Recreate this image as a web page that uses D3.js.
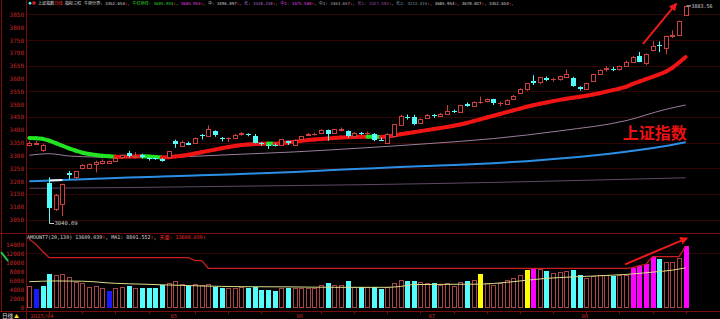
<!DOCTYPE html>
<html><head><meta charset="utf-8">
<script src="https://cdn.jsdelivr.net/npm/d3@7/dist/d3.min.js"></script>
<style>html,body{margin:0;padding:0;background:#000;overflow:hidden}svg{display:block}text{white-space:pre}</style>
</head><body>
<svg id="chart" width="720" height="319"></svg>
<script>
// ---------- DATA ----------
const dates = [
"2025-04-01","2025-04-02","2025-04-03","2025-04-07","2025-04-08","2025-04-09","2025-04-10","2025-04-11","2025-04-14","2025-04-15","2025-04-16","2025-04-17","2025-04-18","2025-04-21","2025-04-22","2025-04-23","2025-04-24","2025-04-25","2025-04-28","2025-04-29","2025-04-30",
"2025-05-06","2025-05-07","2025-05-08","2025-05-09","2025-05-12","2025-05-13","2025-05-14","2025-05-15","2025-05-16","2025-05-19","2025-05-20","2025-05-21","2025-05-22","2025-05-23","2025-05-26","2025-05-27","2025-05-28","2025-05-29","2025-05-30",
"2025-06-03","2025-06-04","2025-06-05","2025-06-06","2025-06-09","2025-06-10","2025-06-11","2025-06-12","2025-06-13","2025-06-16","2025-06-17","2025-06-18","2025-06-19","2025-06-20","2025-06-23","2025-06-24","2025-06-25","2025-06-26","2025-06-27","2025-06-30",
"2025-07-01","2025-07-02","2025-07-03","2025-07-04","2025-07-07","2025-07-08","2025-07-09","2025-07-10","2025-07-11","2025-07-14","2025-07-15","2025-07-16","2025-07-17","2025-07-18","2025-07-21","2025-07-22","2025-07-23","2025-07-24","2025-07-25","2025-07-28","2025-07-29","2025-07-30","2025-07-31",
"2025-08-01","2025-08-04","2025-08-05","2025-08-06","2025-08-07","2025-08-08","2025-08-11","2025-08-12","2025-08-13","2025-08-14","2025-08-15","2025-08-18","2025-08-19","2025-08-20","2025-08-21","2025-08-22","2025-08-25"];

const open = [3341,3346,3320,3193,3090,3110,3230,3215,3250,3252,3268,3270,3270,3280,3294,3308,3293,3303,3289,3290,3285,
3293,3358,3336,3350,3350,3381,3376,3395,3370,3367,3369,3384,3384,3376,3348,3342,3342,3341,3355,
3341,3366,3381,3384,3389,3398,3388,3399,3396,3376,3388,3386,3384,3361,3350,3377,3419,3450,3451,3425,
3446,3458,3455,3462,3474,3471,3500,3493,3508,3512,3520,3504,3500,3520,3542,3560,3590,3585,3602,3598,3598,3608,3604,
3567,3561,3589,3619,3636,3637,3638,3651,3664,3687,3660,3712,3732,3720,3766,3769,3848];
const high = [3356,3356,3346,3215,3150,3190,3240,3240,3267,3269,3280,3285,3280,3295,3303,3318,3313,3306,3293,3292,3290,
3317,3362,3358,3354,3370,3384,3417,3398,3372,3372,3384,3391,3386,3384,3352,3346,3347,3364,3357,
3362,3377,3388,3389,3403,3401,3404,3409,3398,3392,3392,3393,3387,3370,3387,3423,3459,3460,3459,3445,
3462,3462,3466,3497,3479,3498,3507,3511,3530,3522,3521,3510,3519,3537,3562,3582,3613,3606,3608,3603,3611,3636,3607,
3570,3584,3619,3636,3648,3646,3651,3670,3688,3704,3698,3746,3745,3767,3788,3826,3883.56];
const low = [3336,3340,3315,3040.69,3083,3064,3206,3208,3246,3248,3234,3265,3267,3276,3288,3292,3289,3288,3280,3283,3276,
3292,3330,3334,3340,3348,3363,3372,3373,3355,3352,3366,3377,3375,3347,3338,3326,3335,3338,3341,
3338,3363,3378,3378,3386,3358,3384,3394,3370,3372,3380,3380,3356,3357,3346,3376,3418,3440,3418,3423,
3443,3447,3450,3459,3466,3469,3490,3490,3502,3507,3497,3492,3497,3517,3540,3552,3575,3578,3590,3588,3592,3606,3568,
3553,3556,3588,3615,3627,3629,3631,3646,3661,3664,3652,3706,3703,3695,3758,3768,3844];
const close = [3348,3350,3342,3097,3146,3187,3224,3238,3263,3268,3276,3280,3277,3291,3300,3298,3297,3295,3288,3287,3279,
3316,3343,3352,3342,3369,3375,3404,3381,3367,3368,3380,3388,3380,3348,3347,3341,3340,3363,3347,
3362,3376,3384,3385,3400,3385,3402,3403,3377,3389,3387,3389,3362,3360,3382,3421,3456,3448,3424,3444,
3458,3455,3461,3472,3473,3497,3493,3510,3510,3520,3505,3504,3517,3534,3560,3582,3582,3606,3594,3598,3610,3616,3573,
3560,3583,3618,3634,3640,3635,3648,3666,3683,3666,3697,3728,3727,3766,3771,3826,3883];

// 牛红熊绿 thick trend line, one value per candle
const trendLine = [3368,3367.5,3365,3358,3348,3338,3328,3319,3311,3306,
3302,3299,3297,3295,3295.5,3296,3296.5,3297,3296,3294,
3292,3293,3296,3299,3303,3308,3313,3318,3323,3328,
3333,3337,3341,3343,3345,3346,3346.5,3346,3348,3351,
3354,3357,3360,3362,3364,3366,3368,3370,3371,3372,
3373,3373.5,3373,3372,3374,3378,3383,3387,3391,3395,
3399,3403,3407,3411,3416,3421,3427,3434,3441,3448,
3455,3462,3469,3476,3483,3490,3496,3502,3507,3512,
3517,3521,3525,3529,3533,3538,3543,3549,3555,3561,
3568,3579,3588,3598,3607,3616,3627,3642,3663,3684];

// 牛熊分界 (blue) read at candle indices
const bullBearIdx = [0,5,10,15,20,25,30,35,40,45,50,55,60,65,70,75,80,85,90,95,99];
const bullBearVal = [3200,3204,3209,3214,3218,3222,3226,3231,3236,3242,3248,3254,3259,3264,3270,3278,3288,3300,3315,3333,3352];
const bearSpanIdx = [3,5];            // part of the blue line shown white
const bearSpanVal = [3202,3204];
// 中 (mauve)
const midIdx = [0,3,6,10,15,20,25,31,40,50,60,70,80,90,96,99];
const midVal = [3301,3307,3298,3294,3292,3292,3297,3304,3314,3329,3346,3366,3396,3436,3480,3497];
// 长2 (dark)
const longIdx = [0,15,31,50,70,85,99];
const longVal = [3172,3175,3180,3186,3195,3204,3213];

// Volume (amount)
const amount = [4790,4060,4790,7370,7220,7440,6780,5610,5400,4650,4790,4420,3690,4280,4580,4790,4420,4420,4280,4280,5010,
5400,5900,5160,4790,5160,5010,5160,4650,4280,4280,4420,4640,4280,4640,3910,3910,3760,4420,4420,
4280,4420,4280,4280,5010,5380,5010,5010,5900,4640,4500,4500,4640,4060,4640,5380,6120,5900,5900,5600,
5380,5380,5010,5530,4860,5600,5900,6120,7440,5380,5010,5380,6120,6480,7220,8330,8480,8480,8110,7740,7960,8110,8330,
7220,6500,7000,7220,7220,7000,7220,7220,8850,9290,9590,11280,10690,10180,10030,10910,13609];
// u = up, d = down, b = floor, y = signal, m = burst
const amountFlagApr = "ubdduuuuuuuubuududddd";
const amountFlagMay = "uuuduuudduuudddddud";
const amountFlagJun = "uuuuuduudududduuuddu";
const amountFlagJul = "uduuuuduyuuuuuuymuduuud";
const amountFlagAug = "duuuuduummmmduuum";
const amountFlag = (amountFlagApr + amountFlagMay + amountFlagJun + amountFlagJul + amountFlagAug).split("");
const amountMaIdx = [0,4,8,13,17,21,26,32,39,46,54,56,58,63,68,70,74,78,82,86,90,94,97,99];
const amountMaVal = [5750,5900,5850,5380,5200,5010,4800,4640,4600,4500,4500,4700,5100,5160,5200,5350,5900,6480,6800,7050,7350,7850,8300,8800];
// 天量 line
const peakIdx = [0,1,2,3,24,25,26,27,90,91,92,93,94,98,99];
const peakVal = [15100,14000,12400,11050,11050,10380,10380,8700,8700,8850,9290,9590,11280,11280,13609];

const priceTicks = [3050,3100,3150,3200,3250,3300,3350,3400,3450,3500,3550,3600,3650,3700,3750,3800,3850];
const priceGrid = [3050,3150,3250,3350,3450,3550,3650,3750,3850];
const amountTicks = [0,2000,4000,6000,8000,10000,12000,14000];
const monthTickDates = ["2025-04-01","2025-05-06","2025-06-03","2025-07-01","2025-08-01"];
const monthTickLabels = ["2025/04","05","06","07","08"];

const headerNames = ["牛熊分界","牛红熊绿","","中","长","中1","中2","长1","长2","","",""];
const headerValues = [3352.654,3685.954,3685.954,3496.897,3328.238,3475.588,3463.657,3327.592,3212.415,3685.954,3670.027,3352.654];
const volHeaderNames = ["AMOUNT7(20,130)","MA1","天量"];
const volHeaderValues = [13609.039,8801.552,13609.039];

// ---------- STYLES ----------
const headerColors = ["#d8d8d8","#33d633","#e040e0","#d0d0d0","#b070c8","#e040e0","#b8a8b8","#a050b0","#8098b0","#d8d8d8","#d8d8d8","#d8d8d8"];
const UP="#cc4040", CYAN="#54fcfc";
const volColor = {u:null,d:CYAN,b:"#1a1aff",y:"#ffff00",m:"#ff00ff"};
const MONO = "'DejaVu Sans Mono', 'Liberation Mono', monospace";
const CJK = "'Noto Sans CJK SC', sans-serif";

// ---------- SCALES ----------
const svg = d3.select("#chart");
svg.append("rect").attr("width",720).attr("height",319).attr("fill","#000");
const n = dates.length;
const x = d3.scaleLinear().domain([0, n-1]).range([29.3, 685.7]);
const y = d3.scaleLinear().domain([2997.7, 3906.5]).range([233, 0]);
const yv = d3.scaleLinear().domain([0, 14000]).range([307.7, 244.3]);
const px = i => Math.round(x(i));

// frame
const frame = svg.append("g").attr("stroke","#7a0c0c").attr("stroke-width",1);
frame.append("line").attr("x1",1.5).attr("x2",1.5).attr("y1",0).attr("y2",311);
frame.append("line").attr("x1",26.5).attr("x2",26.5).attr("y1",0).attr("y2",319);
frame.append("line").attr("x1",0).attr("x2",720).attr("y1",233.5).attr("y2",233.5);
frame.append("line").attr("x1",0).attr("x2",720).attr("y1",311.5).attr("y2",311.5);

// grid
svg.append("g").selectAll("line").data(priceGrid).join("line")
  .attr("x1",27).attr("x2",720).attr("y1",d=>Math.round(y(d))+0.5).attr("y2",d=>Math.round(y(d))+0.5)
  .attr("stroke","#330606");
svg.append("line").attr("x1",27).attr("x2",720).attr("y1",Math.round(yv(12000))+0.5).attr("y2",Math.round(yv(12000))+0.5).attr("stroke","#330606");

// axes
const ya = svg.append("g").attr("transform","translate(25,0)")
  .call(d3.axisLeft(y).tickValues(priceTicks).tickSize(0).tickPadding(1).tickFormat(d3.format("d")));
ya.select(".domain").remove();
ya.selectAll("text").attr("fill","#c02828").attr("font-family",MONO).attr("font-size",6);
const va = svg.append("g").attr("transform","translate(25,0)")
  .call(d3.axisLeft(yv).tickValues(amountTicks).tickSize(0).tickPadding(1).tickFormat(d3.format("d")));
va.select(".domain").remove();
va.selectAll("text").attr("fill","#c02828").attr("font-family",MONO).attr("font-size",6);
svg.append("line").attr("x1",1).attr("y1",252).attr("x2",8).attr("y2",261).attr("stroke","#22cc44").attr("stroke-width",2);

// clip
svg.append("clipPath").attr("id","mainClip").append("rect").attr("x",27).attr("y",0).attr("width",693).attr("height",233);
const main = svg.append("g").attr("clip-path","url(#mainClip)");

// thin lines
const knotLine = (idx,val) => d3.line().x((d,k)=>x(idx[k])).y(d=>y(d)).curve(d3.curveMonotoneX)(val);
main.append("path").attr("d",knotLine(longIdx,longVal)).attr("fill","none").attr("stroke","#5e4a64").attr("stroke-width",1);
main.append("path").attr("d",knotLine(midIdx,midVal)).attr("fill","none").attr("stroke","#9c7c9c").attr("stroke-width",1);
main.append("path").attr("d",knotLine(bullBearIdx,bullBearVal)).attr("fill","none").attr("stroke","#2b8fe6").attr("stroke-width",2);
main.append("path").attr("d",knotLine(bearSpanIdx,bearSpanVal)).attr("fill","none").attr("stroke","#f0f0f0").attr("stroke-width",2);

// thick trend line (red rising / green falling)
const segs = d3.range(1,n).map(i=>({i, up: trendLine[i] >= trendLine[i-1]}));
main.append("g").selectAll("line").data(segs).join("line")
  .attr("x1",d=>x(d.i-1)).attr("y1",d=>y(trendLine[d.i-1]))
  .attr("x2",d=>x(d.i)).attr("y2",d=>y(trendLine[d.i]))
  .attr("stroke",d=>d.up?"#f01414":"#22e422").attr("stroke-width",4).attr("stroke-linecap","round");

// candles
const cg = main.append("g");
d3.range(n).forEach(i=>{
  const o=open[i], c=close[i], h=high[i], l=low[i];
  const cx = px(i);
  const isUp = c >= o;
  const yt = Math.round(y(Math.max(o,c))), yb = Math.round(y(Math.min(o,c)));
  if (isUp) {
    cg.append("line").attr("x1",cx+0.5).attr("x2",cx+0.5).attr("y1",y(h)).attr("y2",yt).attr("stroke",UP);
    cg.append("line").attr("x1",cx+0.5).attr("x2",cx+0.5).attr("y1",yb).attr("y2",y(l)).attr("stroke",UP);
    cg.append("rect").attr("x",cx-1.5).attr("y",yt+0.5).attr("width",4).attr("height",Math.max(yb-yt,0.01))
      .attr("fill","#000").attr("stroke",UP).attr("stroke-width",1);
  } else {
    cg.append("line").attr("x1",cx+0.5).attr("x2",cx+0.5).attr("y1",y(h)).attr("y2",y(l)).attr("stroke",CYAN);
    cg.append("rect").attr("x",cx-2).attr("y",yt).attr("width",5).attr("height",Math.max(yb-yt,1)).attr("fill",CYAN);
  }
});

// extreme labels
const lowI = low.indexOf(d3.min(low)), highI = high.indexOf(d3.max(high));
main.append("path").attr("d",`M${px(lowI)+0.5},${y(low[lowI])}V${y(low[lowI])+1.5}H${px(lowI)+5}`).attr("fill","none").attr("stroke","#cfcfcf");
main.append("text").attr("x",px(lowI)+5.5).attr("y",y(low[lowI])+3.5).attr("font-size",5.5).attr("font-family",MONO).attr("fill","#cfcfcf").text(d3.format(".2f")(low[lowI]));
main.append("path").attr("d",`M${px(highI)+0.5},${y(high[highI])}H${px(highI)+5}`).attr("fill","none").attr("stroke","#cfcfcf");
svg.append("text").attr("x",px(highI)+5.5).attr("y",y(high[highI])+2).attr("font-size",5).attr("font-family",MONO).attr("fill","#cfcfcf").text(d3.format(".2f")(high[highI]));

// big label
svg.append("text").attr("x",x(89.5)).attr("y",y(3365)).attr("font-family",CJK).attr("font-weight","bold")
  .attr("font-size",16).attr("fill","#ee1111").text("上证指数");

// arrows
const defs = svg.append("defs");
defs.append("marker").attr("id","ah").attr("viewBox","0 0 10 10").attr("refX",8).attr("refY",5)
  .attr("markerWidth",4).attr("markerHeight",4).attr("orient","auto")
  .append("path").attr("d","M0,0L10,5L0,10z").attr("fill","#ee1a1a");
svg.append("line").attr("x1",x(92.56)).attr("y1",y(3735)).attr("x2",x(97.54)).attr("y2",y(3891))
  .attr("stroke","#ee1a1a").attr("stroke-width",2).attr("marker-end","url(#ah)");

// volume bars
const vg = svg.append("g");
d3.range(n).forEach(i=>{
  const cx = px(i), top = Math.round(yv(amount[i])), bot = Math.round(yv(0));
  const f = amountFlag[i];
  if (f === "u") {
    vg.append("rect").attr("x",cx-1.5).attr("y",top+0.5).attr("width",4).attr("height",bot-top-1)
      .attr("fill","none").attr("stroke","#a84646");
  } else {
    vg.append("rect").attr("x",cx-2).attr("y",top).attr("width",5).attr("height",bot-top).attr("fill",volColor[f]);
  }
});
// volume lines
svg.append("path").attr("d",d3.line().x((d,k)=>x(amountMaIdx[k])).y(d=>yv(d)).curve(d3.curveMonotoneX)(amountMaVal))
  .attr("fill","none").attr("stroke","#dcdc8c").attr("stroke-width",1);
svg.append("path").attr("d",d3.line().x((d,k)=>x(peakIdx[k])).y(d=>yv(d))(peakVal))
  .attr("fill","none").attr("stroke","#c81e1e").attr("stroke-width",1.3);
svg.append("line").attr("x1",x(89.85)).attr("y1",yv(9584)).attr("x2",x(99.16)).attr("y2",yv(15325))
  .attr("stroke","#ee1a1a").attr("stroke-width",2).attr("marker-end","url(#ah)");

// headers
svg.append("path").attr("d","M30,1.5L31.8,3.2L30,4.9L28.2,3.2Z").attr("fill","#54fcfc");
svg.append("rect").attr("x",32.5).attr("y",1.5).attr("width",3).attr("height",3).attr("fill","#ee2020");
const ht = svg.append("text").attr("x",38).attr("y",5).attr("font-family",MONO+","+CJK).attr("font-size",4.1);
ht.append("tspan").attr("fill","#e0e0e0").text("上证指数");
ht.append("tspan").attr("fill","#ff3030").text("日线");
ht.append("tspan").attr("fill","#e0e0e0").text(" 指标三红 ");
headerNames.forEach((nm,k)=>{
  ht.append("tspan").attr("fill",headerColors[k]).text((nm? nm+": ":"") + headerValues[k].toFixed(3));
  ht.append("tspan").attr("fill","#ff3030").text("↑");
  ht.append("tspan").attr("fill","#d8d8d8").text(k < headerNames.length-1 ? ", " : ",");
});
const vt = svg.append("text").attr("x",27).attr("y",238.5).attr("font-family",MONO+","+CJK).attr("font-size",5);
volHeaderNames.forEach((nm,k)=>{
  const col = k===2 ? "#ee2a2a" : "#d8d8d8";
  vt.append("tspan").attr("fill",col).text(k===0 ? nm+" "+volHeaderValues[k].toFixed(3) : nm+": "+volHeaderValues[k].toFixed(3));
  vt.append("tspan").attr("fill","#ff3030").text("↑");
  if (k<2) vt.append("tspan").attr("fill","#d8d8d8").text(", ");
});

// bottom axis
svg.append("text").attr("x",2).attr("y",317.5).attr("font-family",CJK).attr("font-size",5.5).attr("fill","#e0e0e0").text("日线");
svg.append("text").attr("x",14).attr("y",317.5).attr("font-family",CJK).attr("font-size",5).attr("fill","#f0e020").text("▲");
const parse = d3.utcParse("%Y-%m-%d");
const weekStarts = dates.map((d,i)=>i).filter(i=> i>0 && (parse(dates[i]).getUTCDay() <= parse(dates[i-1]).getUTCDay() || (parse(dates[i])-parse(dates[i-1]))/864e5 >= 7) && !monthTickDates.includes(dates[i]));
svg.append("g").selectAll("line").data(weekStarts).join("line")
  .attr("x1",i=>px(i)+0.5).attr("x2",i=>px(i)+0.5).attr("y1",312).attr("y2",314).attr("stroke","#7a0c0c");
svg.append("g").selectAll("text").data(monthTickDates).join("text")
  .attr("x",d=>px(dates.indexOf(d))+1.5).attr("y",317.8)
  .attr("font-family",MONO).attr("font-size",5.5).attr("fill","#c02828")
  .text((d,k)=>monthTickLabels[k]);
</script></body></html>
